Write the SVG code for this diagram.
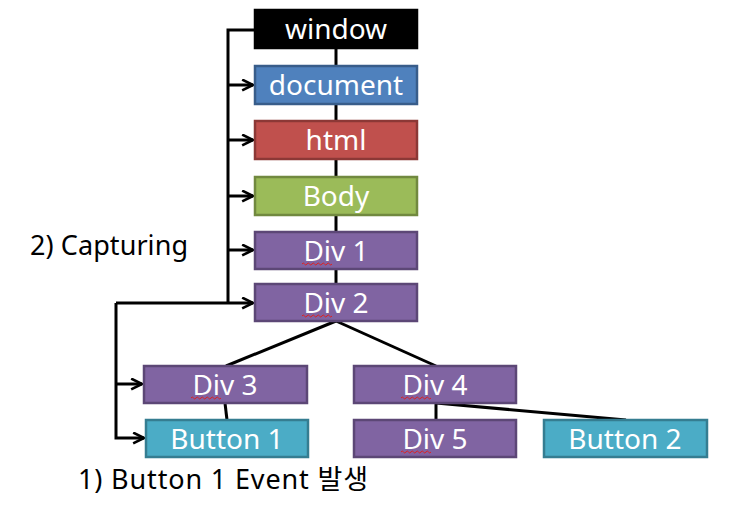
<svg xmlns="http://www.w3.org/2000/svg" width="733" height="526" viewBox="0 0 733 526">
<defs>
<marker id="arr" viewBox="0 0 12 12" refX="11" refY="6" markerWidth="13" markerHeight="13" markerUnits="userSpaceOnUse" orient="auto">
<path d="M1,1 L11,6 L1,11" fill="none" stroke="#000" stroke-width="2.4"/>
</marker>
<path id="sq" d="M0,0 q1.25,-2 2.5,0 t2.5,0 t2.5,0 t2.5,0 t2.5,0 t2.5,0 t2.5,0 t2.5,0 t2.5,0 t2.5,0 t2.5,0 t2.5,0" fill="none" stroke="#e02020" stroke-width="1"/>
</defs>
<style>
.box{stroke-width:2.5}
.lbl{font-family:"Noto Sans","Open Sans","Noto Sans CJK KR",sans-serif;font-size:28px;fill:#fff;text-anchor:middle}
.cap{font-family:"Noto Sans","Open Sans","Noto Sans CJK KR",sans-serif;font-size:27px;fill:#000}
.ln{stroke:#000;stroke-width:3;fill:none}
.purple{fill:#8064A2;stroke:#5C4776}
.teal{fill:#4BACC6;stroke:#357D91}
</style>
<rect width="733" height="526" fill="#fff"/>
<g id="connectors">
<path class="ln" d="M336,48 V284"/>
<path class="ln" d="M336,321 L226,366"/>
<path class="ln" d="M336,321 L436,366"/>
<path class="ln" d="M225,403 L227,420"/>
<path class="ln" d="M436,403 V420"/>
<path class="ln" d="M436,403 L626,420"/>
<path class="ln" d="M255,30 H228 V303"/>
<path class="ln" d="M228,85 H253" marker-end="url(#arr)"/>
<path class="ln" d="M228,140 H253" marker-end="url(#arr)"/>
<path class="ln" d="M228,196 H253" marker-end="url(#arr)"/>
<path class="ln" d="M228,250 H253" marker-end="url(#arr)"/>
<path class="ln" d="M116,303 H253" marker-end="url(#arr)"/>
<path class="ln" d="M116,303 V438 H144" marker-end="url(#arr)"/>
<path class="ln" d="M116,384 H142" marker-end="url(#arr)"/>
</g>
<g id="window"><rect class="box" x="255" y="10" width="162" height="38" fill="#000" stroke="#000"/><text class="lbl" x="336" y="39">window</text></g>
<g id="document"><rect class="box" x="255" y="66" width="162" height="38" fill="#4F81BD" stroke="#385D8A"/><text class="lbl" x="336" y="95">document</text></g>
<g id="html"><rect class="box" x="255" y="121" width="162" height="38" fill="#C0504D" stroke="#8C3836"/><text class="lbl" x="336" y="150">html</text></g>
<g id="body"><rect class="box" x="255" y="177" width="162" height="38" fill="#9BBB59" stroke="#71893F"/><text class="lbl" x="336" y="206">Body</text></g>
<g id="div1"><rect class="box purple" x="255" y="232" width="162" height="37"/><text class="lbl" x="336" y="261">Div 1</text><use href="#sq" x="302" y="264"/></g>
<g id="div2"><rect class="box purple" x="255" y="284" width="162" height="37"/><text class="lbl" x="336" y="313">Div 2</text><use href="#sq" x="302" y="316"/></g>
<g id="div3"><rect class="box purple" x="144" y="366" width="163" height="37"/><text class="lbl" x="225" y="395">Div 3</text><use href="#sq" x="191" y="398"/></g>
<g id="div4"><rect class="box purple" x="354" y="366" width="162" height="37"/><text class="lbl" x="435" y="395">Div 4</text><use href="#sq" x="401" y="398"/></g>
<g id="button1"><rect class="box teal" x="146" y="420" width="162" height="37"/><text class="lbl" x="227" y="449">Button 1</text></g>
<g id="div5"><rect class="box purple" x="354" y="420" width="162" height="37"/><text class="lbl" x="435" y="449">Div 5</text><use href="#sq" x="401" y="452"/></g>
<g id="button2"><rect class="box teal" x="544" y="420" width="163" height="37"/><text class="lbl" x="625" y="449">Button 2</text></g>
<text class="cap" x="30" y="255" textLength="158" lengthAdjust="spacing">2) Capturing</text>
<text class="cap" x="78" y="489" textLength="290" lengthAdjust="spacing">1) Button 1 Event 발생</text>
</svg>
